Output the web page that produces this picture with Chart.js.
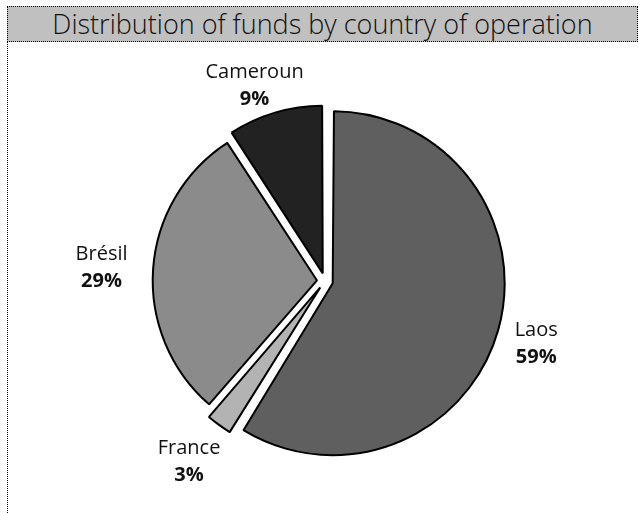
<!DOCTYPE html>
<html>
<head>
<meta charset="utf-8">
<script src="https://cdn.jsdelivr.net/npm/chart.js@4"></script>
<style>
body { margin: 0; background: #fff; }
#wrap { position: relative; width: 639px; height: 513px; overflow: hidden; }
#frame { position: absolute; left: 7px; top: 6px; width: 0; height: 507px; border-left: 1px dotted #000; }
#title { position: absolute; left: 7px; top: 6px; width: 629px; height: 34px; background: #c0c0c0;
  border: 1px dotted #000; font: 300 27px 'Open Sans', sans-serif; color: #111; text-align: center; line-height: 33px; }
canvas { position: absolute; left: 0; top: 0; }
</style>
</head>
<body>
<div id="wrap">
  <div id="frame"></div>
  <div id="title">Distribution of funds by country of operation</div>
  <canvas id="pieChart" width="639" height="513"></canvas>
</div>
<script>
const countries = ['Laos', 'France', 'Brésil', 'Cameroun'];
const shares = [58.8, 2.6, 29.4, 9.2];
const sliceColors = ['#5f5f5f', '#b3b3b3', '#8b8b8b', '#222222'];

// labels drawn outside each slice: name on top, bold percent below
const outsideLabels = {
  id: 'outsideLabels',
  afterDatasetsDraw(chart) {
    const ctx = chart.ctx;
    const meta = chart.getDatasetMeta(0);
    const total = shares.reduce((a, b) => a + b, 0);
    ctx.save();
    ctx.fillStyle = '#111';
    ctx.textAlign = 'center';
    ctx.textBaseline = 'alphabetic';
    meta.data.forEach((arc, i) => {
      const p = arc.getProps(['x', 'y', 'startAngle', 'endAngle', 'outerRadius'], true);
      const mid = (p.startAngle + p.endAngle) / 2;
      const dx = Math.cos(mid), dy = Math.sin(mid);
      const off = arc.options.offset / 4; // arcs are drawn shifted by offset/4
      const cx = p.x + dx * off, cy = p.y + dy * off;
      const name = countries[i];
      const pct = Math.round(shares[i] / total * 100) + '%';
      ctx.font = '20px "Open Sans"';
      const w1 = ctx.measureText(name).width;
      ctx.font = 'bold 20px "Open Sans"';
      const w2 = ctx.measureText(pct).width;
      const w = Math.max(w1, w2), h = 48;
      const r = p.outerRadius + 26;
      const bx = cx + dx * r + dx * w / 2;
      // keep the label box below the title bar
      const by = Math.max(cy + dy * r + dy * h / 2, 84);
      ctx.font = '20px "Open Sans"';
      ctx.fillText(name, bx, by - 6);
      ctx.font = 'bold 20px "Open Sans"';
      ctx.fillText(pct, bx, by + 21);
    });
    ctx.restore();
  }
};

new Chart(document.getElementById('pieChart').getContext('2d'), {
  type: 'pie',
  data: {
    labels: countries,
    datasets: [{
      data: shares,
      backgroundColor: sliceColors,
      borderColor: '#000',
      borderWidth: 2,
      offset: 32,
      hoverOffset: 0
    }]
  },
  options: {
    responsive: false,
    animation: false,
    events: [],
    layout: { padding: { top: 100, bottom: 51, left: 132, right: 121 } },
    plugins: {
      legend: { display: false },
      tooltip: { enabled: false },
      title: { display: false }
    }
  },
  plugins: [outsideLabels]
});
</script>
</body>
</html>
